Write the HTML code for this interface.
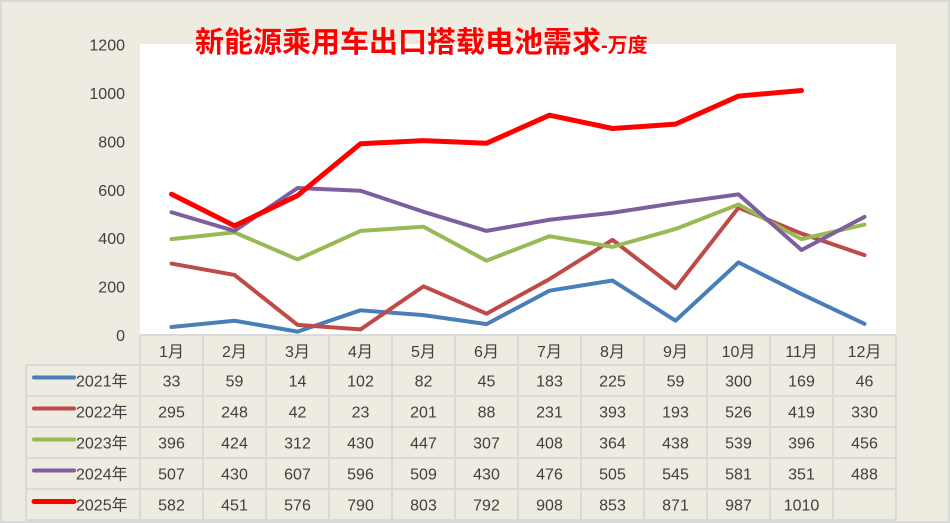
<!DOCTYPE html>
<html><head><meta charset="utf-8"><style>
body{margin:0;width:950px;height:523px;overflow:hidden;background:#fff;font-family:"Liberation Sans","Noto Sans CJK SC",sans-serif}
</style></head><body>
<svg id="c" width="950" height="523" style="display:block">
<rect x="1" y="1" width="948" height="521" fill="#eeebe1" stroke="#d9d9d9" stroke-width="2"/>
<rect x="140" y="44" width="756" height="291" fill="#fff"/>
<text x="195" y="52" fill="#ff0000" font-size="29" font-weight="bold" font-family="Liberation Sans,Noto Sans CJK SC,sans-serif">新能源乘用车出口搭载电池需求<tspan font-size="20" dy="0">-万度</tspan></text>
<g id="yt"></g><g id="lines"></g><g id="tbl"></g>
</svg>
<script>
const months=["1月","2月","3月","4月","5月","6月","7月","8月","9月","10月","11月","12月"];
const years=["2021年","2022年","2023年","2024年","2025年"];
const colors=["#4a7ebb","#be4b48","#98b954","#7d5fa0","#ff0000"];
const s2021=[33,59,14,102,82,45,183,225,59,300,169,46];
const s2022=[295,248,42,23,201,88,231,393,193,526,419,330];
const s2023=[396,424,312,430,447,307,408,364,438,539,396,456];
const s2024=[507,430,607,596,509,430,476,505,545,581,351,488];
const s2025=[582,451,576,790,803,792,908,853,871,987,1010];
const series=[s2021,s2022,s2023,s2024,s2025];
const yTicks=[0,200,400,600,800,1000,1200];
const NS="http://www.w3.org/2000/svg";
const x0=140,cw=63,yb=335,yTop=44.5,ymax=1200;
const X=i=>x0+cw*(i+0.5);
const Y=v=>yb-(v/ymax)*(yb-yTop);
function mk(t,a,p,txt){const e=document.createElementNS(NS,t);for(const k in a)e.setAttribute(k,a[k]);if(txt!=null)e.textContent=txt;p.appendChild(e);return e;}
const yt=document.getElementById('yt');
yTicks.forEach(v=>{const e=mk('text',{x:125,y:Y(v)+6,'text-anchor':'end','font-size':16,fill:'#404040'},yt,v);

});
const lg=document.getElementById('lines');
series.forEach((s,k)=>{const p=mk('polyline',{points:s.map((v,i)=>X(i)+','+Y(v)).join(' '),fill:'none',stroke:colors[k],'stroke-width':k==4?5:4,'stroke-linejoin':'round','stroke-linecap':'round'},lg);

});
const tb=document.getElementById('tbl');
const rh=31,hy=335,lx=26;
// grid
const gc='#d9d9d9';
for(let r=0;r<=6;r++){const y=hy+(r==0?0:30+(r-1)*rh);mk('line',{x1:r==0?140:lx,x2:896,y1:y,y2:y,stroke:gc,'stroke-width':2},tb);}
mk('line',{x1:lx,x2:lx,y1:365,y2:520,stroke:gc,'stroke-width':2},tb);
for(let c=0;c<=12;c++){mk('line',{x1:x0+c*cw,x2:x0+c*cw,y1:335,y2:520,stroke:gc,'stroke-width':2},tb);}
months.forEach((m,i)=>{const e=mk('text',{x:X(i),y:357,'text-anchor':'middle','font-size':16,fill:'#404040'},tb,m);

});
series.forEach((s,k)=>{const cy=365+k*rh+rh/2;
const l=mk('line',{x1:34,x2:74,y1:cy-3,y2:cy-3,stroke:colors[k],'stroke-width':k==4?5:4,'stroke-linecap':'round'},tb);


const t=mk('text',{x:76,y:cy+6,'font-size':16,fill:'#404040'},tb,years[k]);


s.forEach((v,i)=>{const e=mk('text',{x:X(i),y:cy+6,'text-anchor':'middle','font-size':16,fill:'#404040'},tb,v);

});});
</script>
</body></html>
